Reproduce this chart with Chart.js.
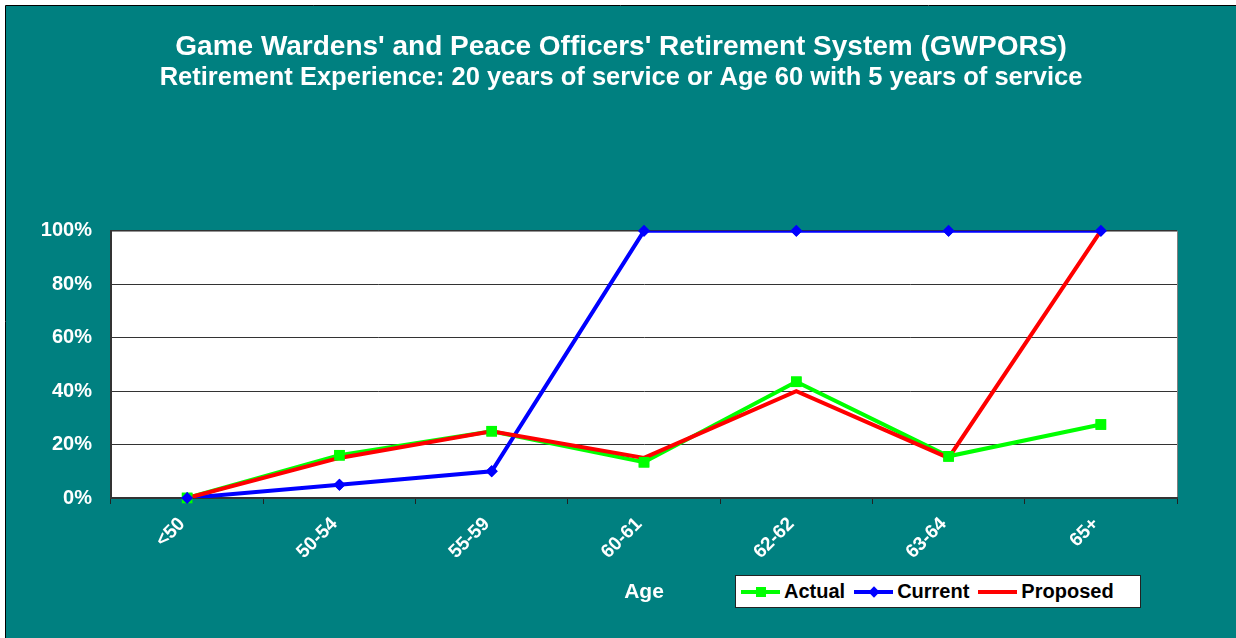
<!DOCTYPE html>
<html>
<head>
<meta charset="utf-8">
<script src="https://cdn.jsdelivr.net/npm/chart.js"></script>
<style>
  html, body { margin: 0; padding: 0; background: #fff; }
  #wrap { position: relative; width: 1236px; height: 638px; }
  #legend {
    position: absolute; left: 735px; top: 575px; width: 404px; height: 31px;
    background: #fff; border: 1px solid #222;
    font: bold 20px "Liberation Sans", Arial, sans-serif; color: #000;
    display: flex; align-items: center;
  }
  .item { display: flex; align-items: center; margin-left: 5px; margin-right: 4px; }
  .swatch { position: relative; width: 39px; height: 4px; margin-right: 4px; }
  .swatch span { position: absolute; left: 15px; top: -3px; width: 10px; height: 10px; }
  .swatch span.dia { left: 16px; top: -2px; width: 8px; height: 8px; transform: rotate(45deg); }
</style>
</head>
<body>
<div id="wrap">
  <canvas id="chart" width="1236" height="638"></canvas>
  <div id="legend"></div>
</div>
<script>
const categories = ["<50", "50-54", "55-59", "60-61", "62-62", "63-64", "65+"];
const actual   = [0, 16, 25, 13.4, 43.5, 15.6, 27.5];
const current  = [0, 5, 10, 100, 100, 100, 100];
const proposed = [0, 15, 25, 15, 40, 15, 100];
const yTicks   = [0, 20, 40, 60, 80, 100];

const TEAL = "#008080";
const FONT = "'Liberation Sans', Arial, sans-serif";

// legend (html, sits on the teal strip next to the axis title)
const legendItems = [
  { label: "Actual", color: "#00ff00", marker: "sq" },
  { label: "Current", color: "#0000ff", marker: "dia" },
  { label: "Proposed", color: "#ff0000", marker: null }
];
const legendEl = document.getElementById("legend");
legendItems.forEach((it) => {
  const d = document.createElement("div");
  d.className = "item";
  let mk = "";
  if (it.marker) mk = `<span class="${it.marker}" style="background:${it.color}"></span>`;
  d.innerHTML = `<div class="swatch" style="background:${it.color}">${mk}</div>${it.label}`;
  legendEl.appendChild(d);
});

const backdrop = {
  id: "backdrop",
  beforeDraw(chart) {
    const { ctx, width, height, chartArea: a } = chart;
    ctx.save();
    ctx.fillStyle = "#fff";
    ctx.fillRect(0, 0, width, height);
    ctx.fillStyle = TEAL;
    ctx.fillRect(6, 6, width - 6, height - 6);
    ctx.strokeStyle = "#000";
    ctx.lineWidth = 1;
    ctx.beginPath();
    ctx.moveTo(5.5, height); ctx.lineTo(5.5, 5.5); ctx.lineTo(width, 5.5);
    ctx.stroke();
    ctx.fillStyle = "#fff";
    ctx.fillRect(a.left, a.top, a.right - a.left, a.bottom - a.top);
    ctx.strokeStyle = "#808080";
    ctx.strokeRect(a.left + 0.5, a.top + 0.5, a.right - a.left, a.bottom - a.top);
    ctx.restore();
  },
  afterDatasetsDraw(chart) {
    // markers sit above every line, as in the original
    const ctx = chart.ctx;
    [0, 1].forEach((i) => {
      chart.getDatasetMeta(i).data.forEach((p) => p.draw(ctx, chart.chartArea));
    });
  }
};

new Chart(document.getElementById("chart"), {
  type: "line",
  data: {
    labels: categories,
    datasets: [
      {
        label: "Actual", data: actual, order: 3,
        borderColor: "#00ff00", backgroundColor: "#00ff00", borderWidth: 4,
        pointStyle: "rect", pointRadius: 7.5, pointBorderWidth: 0
      },
      {
        label: "Current", data: current, order: 2,
        borderColor: "#0000ff", backgroundColor: "#0000ff", borderWidth: 4,
        pointStyle: "rectRot", pointRadius: 6, pointBorderWidth: 0
      },
      {
        label: "Proposed", data: proposed, order: 1,
        borderColor: "#ff0000", backgroundColor: "#ff0000", borderWidth: 4,
        pointRadius: 0
      }
    ]
  },
  options: {
    responsive: false,
    animation: false,
    layout: { padding: { top: 32, right: 0, left: 6, bottom: 0 } },
    plugins: {
      legend: { display: false },
      tooltip: { enabled: false },
      title: {
        display: true,
        text: "Game Wardens' and Peace Officers' Retirement System (GWPORS)",
        color: "#fff",
        font: { family: FONT, size: 28, weight: "bold", lineHeight: 1.1 },
        padding: { top: 0, bottom: 1 }
      },
      subtitle: {
        display: true,
        text: "Retirement Experience: 20 years of service or Age 60 with 5 years of service",
        color: "#fff",
        font: { family: FONT, size: 25.5, weight: "bold", lineHeight: 1.1 },
        padding: { top: 0, bottom: 139 }
      }
    },
    scales: {
      x: {
        offset: true,
        grid: { offset: true, drawOnChartArea: false, drawTicks: true, tickLength: 6, color: "#222" },
        border: { color: "#333", width: 2 },
        ticks: {
          color: "#fff", maxRotation: 45, minRotation: 45, padding: 9, labelOffset: -5,
          font: { family: FONT, size: 19, weight: "bold" }
        },
        title: {
          display: true, text: "Age", color: "#fff",
          font: { family: FONT, size: 21, weight: "bold" },
          padding: { top: 0, bottom: 33 }
        },
        afterFit(scale) { scale.height = 140; }
      },
      y: {
        min: 0, max: 100,
        afterBuildTicks(scale) { scale.ticks = yTicks.map((v) => ({ value: v })); },
        grid: { color: "#333", drawTicks: false },
        border: { color: "#333", width: 2 },
        ticks: {
          color: "#fff", padding: 19,
          font: { family: FONT, size: 20, weight: "bold" },
          callback: (v) => v + "%"
        },
        afterFit(scale) { scale.width = 105; }
      },
      // empty right axis only reserves the teal margin right of the plot
      y2: {
        position: "right", display: true,
        grid: { display: false, drawTicks: false },
        border: { display: false },
        ticks: { display: false },
        afterFit(scale) { scale.width = 59; }
      }
    }
  },
  plugins: [backdrop]
});
</script>
</body>
</html>
